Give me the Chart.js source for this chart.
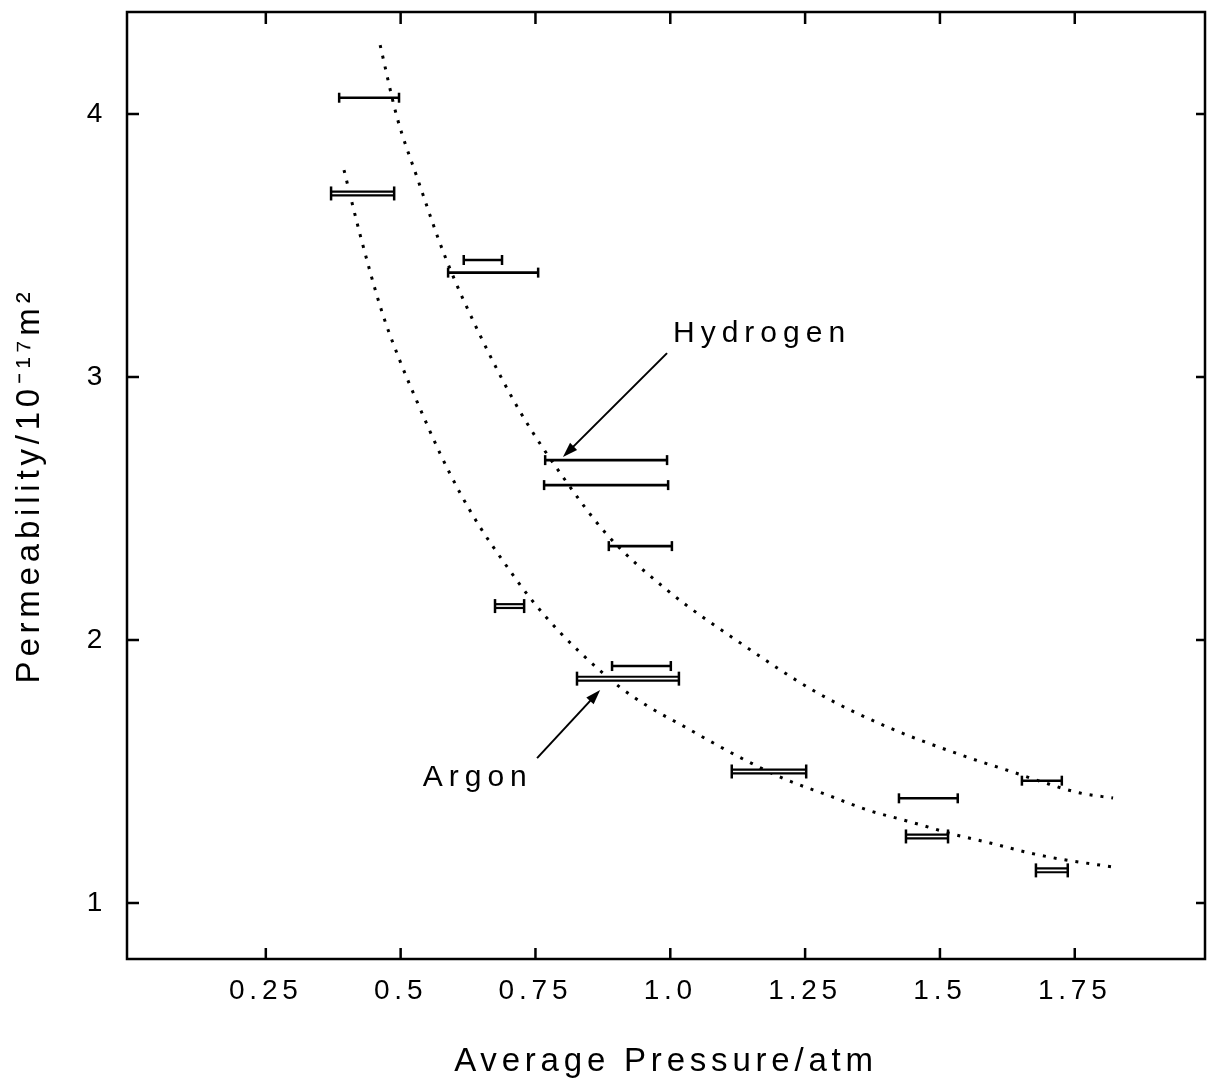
<!DOCTYPE html>
<html><head><meta charset="utf-8">
<script src="https://cdn.jsdelivr.net/npm/chart.js@4.4.1/dist/chart.umd.min.js"></script>
<style>html,body{margin:0;padding:0;background:#fff;overflow:hidden}canvas{display:block}</style>
</head><body>
<canvas id="c" width="1208" height="1083"></canvas>
<script>
// ---- tick labels ----
const xTickValues = [0.25, 0.5, 0.75, 1.0, 1.25, 1.5, 1.75];
const xTickLabels = ['0.25', '0.5', '0.75', '1.0', '1.25', '1.5', '1.75'];
const yTickValues = [1, 2, 3, 4];
const yTickLabels = ['1', '2', '3', '4'];

// ---- Hydrogen measurements (permeability, pressure range) ----
const hydrogenK   = [4.062, 3.445, 3.397, 2.684, 2.589, 2.357, 1.901, 1.465, 1.398];
const hydrogenPLo = [0.386, 0.617, 0.588, 0.768, 0.766, 0.886, 0.892, 1.652, 1.424];
const hydrogenPHi = [0.497, 0.688, 0.755, 0.994, 0.996, 1.003, 1.001, 1.726, 1.533];

// ---- Argon measurements (permeability, pressure range) ----
const argonK   = [3.698, 2.129, 1.853, 1.500, 1.253, 1.124];
const argonPLo = [0.371, 0.675, 0.827, 1.114, 1.437, 1.678];
const argonPHi = [0.488, 0.729, 1.016, 1.252, 1.515, 1.737];

// ---- dotted fitted curves ----
const hydrogenCurveP = [0.462, 0.493, 0.532, 0.582, 0.647, 0.721, 0.801, 0.883, 0.994, 1.129, 1.272, 1.402, 1.550, 1.635, 1.690, 1.760, 1.821];
const hydrogenCurveK = [4.262, 3.990, 3.750, 3.460, 3.160, 2.870, 2.620, 2.400, 2.190, 1.990, 1.800, 1.670, 1.555, 1.498, 1.460, 1.418, 1.399];
const argonCurveP = [0.395, 0.425, 0.465, 0.499, 0.536, 0.573, 0.610, 0.647, 0.690, 0.740, 0.795, 0.866, 0.907, 0.957, 1.031, 1.074, 1.142, 1.216, 1.291, 1.365, 1.439, 1.524, 1.593, 1.667, 1.723, 1.821];
const argonCurveK = [3.787, 3.540, 3.250, 3.060, 2.880, 2.710, 2.560, 2.430, 2.300, 2.160, 2.030, 1.890, 1.820, 1.750, 1.665, 1.615, 1.540, 1.468, 1.411, 1.354, 1.312, 1.262, 1.228, 1.190, 1.167, 1.137];

// ---- annotation labels ----
const annotations = [
  { text: 'Hydrogen', x: 1.005, y: 3.163, fromX: 0.994, fromY: 3.091, toX: 0.801, toY: 2.696 },
  { text: 'Argon',    x: 0.541, y: 1.475, fromX: 0.753, fromY: 1.551, toX: 0.870, toY: 1.810 }
];

const FONT = "'Liberation Sans', Arial, sans-serif";
const BLACK = '#000';

const datasets = [];
function curve(P, K) {
  return {
    type: 'line', order: 5,
    data: P.map((p, i) => ({ x: p, y: K[i] })),
    borderColor: BLACK, borderWidth: 3, borderDash: [3, 8],
    pointRadius: 0, cubicInterpolationMode: 'monotone', fill: false
  };
}
datasets.push(curve(hydrogenCurveP, hydrogenCurveK));
datasets.push(curve(argonCurveP, argonCurveK));

hydrogenK.forEach((k, i) => {
  datasets.push({
    type: 'line', order: 1,
    data: [{ x: hydrogenPLo[i], y: k }, { x: hydrogenPHi[i], y: k }],
    borderColor: BLACK, borderWidth: 2.6,
    pointStyle: 'line', rotation: 90, pointRadius: 5, pointBorderWidth: 2.5,
    pointBorderColor: BLACK, pointBackgroundColor: BLACK
  });
});
argonK.forEach((k, i) => {
  const d = [{ x: argonPLo[i], y: k }, { x: argonPHi[i], y: k }];
  datasets.push({ type: 'line', order: 3, data: d, borderColor: BLACK, borderWidth: 6, pointRadius: 0 });
  datasets.push({ type: 'line', order: 2, data: d, borderColor: '#fff', borderWidth: 1.6, pointRadius: 0 });
  datasets.push({
    type: 'line', order: 0, data: d, showLine: false,
    pointStyle: 'line', rotation: 90, pointRadius: 7, pointBorderWidth: 2.5,
    pointBorderColor: BLACK, pointBackgroundColor: BLACK
  });
});

const bgPlugin = {
  id: 'bg',
  beforeDraw(chart) {
    const ctx = chart.ctx;
    ctx.save();
    ctx.fillStyle = '#fff';
    ctx.fillRect(0, 0, chart.width, chart.height);
    ctx.restore();
    ctx.letterSpacing = '4.8px';
  }
};

const framePlugin = {
  id: 'frame',
  afterDatasetsDraw(chart) {
    const { ctx, chartArea: a, scales: { x, y } } = chart;
    ctx.save();
    ctx.strokeStyle = BLACK;
    ctx.lineWidth = 2.5;
    ctx.strokeRect(a.left, a.top, a.right - a.left, a.bottom - a.top);
    ctx.beginPath();
    xTickValues.forEach(v => {
      const px = x.getPixelForValue(v);
      ctx.moveTo(px, a.bottom); ctx.lineTo(px, a.bottom - 11);
      ctx.moveTo(px, a.top); ctx.lineTo(px, a.top + 12);
    });
    yTickValues.forEach(v => {
      const py = y.getPixelForValue(v);
      ctx.moveTo(a.left, py); ctx.lineTo(a.left + 12, py);
      ctx.moveTo(a.right, py); ctx.lineTo(a.right - 9, py);
    });
    ctx.stroke();

    ctx.fillStyle = BLACK;
    ctx.font = '30px ' + FONT;
    ctx.letterSpacing = '6px';
    ctx.textAlign = 'left';
    ctx.textBaseline = 'middle';
    annotations.forEach(an => {
      ctx.fillText(an.text, x.getPixelForValue(an.x), y.getPixelForValue(an.y));
      const x0 = x.getPixelForValue(an.fromX), y0 = y.getPixelForValue(an.fromY);
      const x1 = x.getPixelForValue(an.toX), y1 = y.getPixelForValue(an.toY);
      const ang = Math.atan2(y1 - y0, x1 - x0);
      ctx.lineWidth = 2;
      ctx.beginPath(); ctx.moveTo(x0, y0); ctx.lineTo(x1 - 10 * Math.cos(ang), y1 - 10 * Math.sin(ang)); ctx.stroke();
      const L = 15, W = 5;
      ctx.beginPath();
      ctx.moveTo(x1, y1);
      ctx.lineTo(x1 - L * Math.cos(ang) + W * Math.sin(ang), y1 - L * Math.sin(ang) - W * Math.cos(ang));
      ctx.lineTo(x1 - L * Math.cos(ang) - W * Math.sin(ang), y1 - L * Math.sin(ang) + W * Math.cos(ang));
      ctx.closePath(); ctx.fill();
    });
    ctx.restore();
  }
};

function zeroPad(s) { s.paddingTop = 0; s.paddingBottom = 0; s.paddingLeft = 0; s.paddingRight = 0; }

new Chart(document.getElementById('c'), {
  type: 'line',
  data: { datasets },
  options: {
    responsive: false,
    animation: false,
    devicePixelRatio: 1,
    layout: { autoPadding: false, padding: { top: 12, right: 3, left: 0, bottom: 0 } },
    plugins: { legend: { display: false }, tooltip: { enabled: false } },
    scales: {
      x: {
        type: 'linear', min: -0.0074, max: 1.9915,
        afterBuildTicks: s => { s.ticks = xTickValues.map(v => ({ value: v })); },
        afterFit: s => { s.height = 124; zeroPad(s); },
        grid: { display: false }, border: { display: false },
        ticks: {
          autoSkip: false, maxRotation: 0, padding: 7, color: BLACK,
          font: { family: FONT, size: 28 },
          callback: v => xTickLabels[xTickValues.indexOf(v)]
        },
        title: { display: true, text: 'Average Pressure/atm', color: BLACK,
          font: { family: FONT, size: 33 }, padding: { top: 0, bottom: 1 } }
      },
      y: {
        type: 'linear', min: 0.787, max: 4.388,
        afterBuildTicks: s => { s.ticks = yTickValues.map(v => ({ value: v })); },
        afterFit: s => { s.width = 127; zeroPad(s); },
        grid: { display: false }, border: { display: false },
        ticks: {
          autoSkip: false, padding: 12, color: BLACK,
          font: { family: FONT, size: 28 },
          callback: v => yTickLabels[yTickValues.indexOf(v)]
        },
        title: { display: true, text: 'Permeability/10\u207B\u00B9\u2077m\u00B2', color: BLACK,
          font: { family: FONT, size: 33 }, padding: { top: 10, bottom: 0 } }
      }
    }
  },
  plugins: [bgPlugin, framePlugin]
});
</script>
</body></html>
